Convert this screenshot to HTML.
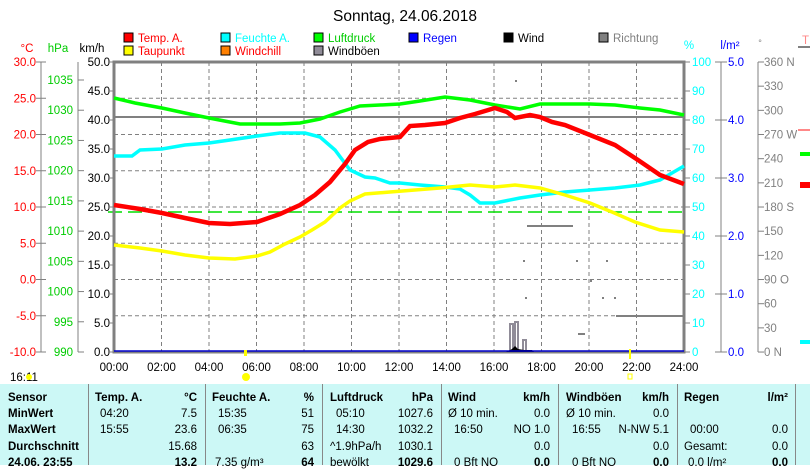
<!DOCTYPE html>
<html><head><meta charset="utf-8"><style>
body{margin:0;width:810px;height:465px;overflow:hidden;background:#fff;font-family:"Liberation Sans",sans-serif;}
svg{position:absolute;left:0;top:0}
#tbl{position:absolute;left:0;top:384px;width:810px;height:81px;background:#ccf8f6;font-size:11.5px;}
#tbl div{position:absolute;white-space:nowrap}
.b{font-weight:bold}
.sep{position:absolute;top:0;width:1px;height:81px;background:#888}
</style></head><body>
<svg width="810" height="465" font-family="Liberation Sans, sans-serif" font-size="11.5">
<text x="405" y="21" font-size="15.5" text-anchor="middle">Sonntag, 24.06.2018</text>
<g font-size="11.5">
<rect x="124" y="33" width="9" height="9" fill="red" stroke="#000"/><text x="138" y="42" fill="red">Temp. A.</text>
<rect x="124" y="46" width="9" height="9" fill="yellow" stroke="#000"/><text x="138" y="55" fill="red">Taupunkt</text>
<rect x="221" y="33" width="9" height="9" fill="cyan" stroke="#000"/><text x="235" y="42" fill="cyan">Feuchte A.</text>
<rect x="221" y="46" width="9" height="9" fill="#ff8000" stroke="#000"/><text x="235" y="55" fill="red">Windchill</text>
<rect x="314" y="33" width="9" height="9" fill="#0f0" stroke="#000"/><text x="328" y="42" fill="#0c0">Luftdruck</text>
<rect x="314" y="46" width="9" height="9" fill="#908c98" stroke="#000"/><text x="328" y="55">Windböen</text>
<rect x="409" y="33" width="9" height="9" fill="#00f" stroke="#000"/><text x="423" y="42" fill="#00f">Regen</text>
<rect x="504" y="33" width="9" height="9" fill="#000" stroke="#000"/><text x="518" y="42">Wind</text>
<rect x="599" y="33" width="9" height="9" fill="#808080" stroke="#000"/><text x="613" y="42" fill="#808080">Richtung</text>
</g>
<text x="27" y="52" fill="red" text-anchor="middle">°C</text>
<text x="58" y="52" fill="#0c0" text-anchor="middle">hPa</text>
<text x="92" y="52" text-anchor="middle">km/h</text>
<text x="689" y="49" fill="cyan" text-anchor="middle">%</text>
<text x="730" y="49" fill="#00f" text-anchor="middle">l/m²</text>
<text x="760" y="46" fill="#808080" text-anchor="middle" font-size="9">°</text>
<text x="802" y="44" fill="#f88">T</text>
<g stroke="#808080" fill="none">
<line x1="41" y1="62" x2="41" y2="352"/>
<line x1="78" y1="62" x2="78" y2="352"/>
<line x1="721" y1="62" x2="721" y2="352"/>
<line x1="758" y1="62" x2="758" y2="352"/>
</g>
<g id="ax"></g>
<g stroke="#808080" stroke-dasharray="4,3">
<line x1="161.5" y1="62" x2="161.5" y2="352"/><line x1="209" y1="62" x2="209" y2="352"/><line x1="256.5" y1="62" x2="256.5" y2="352"/><line x1="304" y1="62" x2="304" y2="352"/><line x1="351.5" y1="62" x2="351.5" y2="352"/><line x1="399" y1="62" x2="399" y2="352"/><line x1="446.5" y1="62" x2="446.5" y2="352"/><line x1="494" y1="62" x2="494" y2="352"/><line x1="541.5" y1="62" x2="541.5" y2="352"/><line x1="589" y1="62" x2="589" y2="352"/><line x1="636.5" y1="62" x2="636.5" y2="352"/>
<line x1="114" y1="98.3" x2="684" y2="98.3"/><line x1="114" y1="134.5" x2="684" y2="134.5"/><line x1="114" y1="170.8" x2="684" y2="170.8"/><line x1="114" y1="207" x2="684" y2="207"/><line x1="114" y1="243.3" x2="684" y2="243.3"/><line x1="114" y1="279.5" x2="684" y2="279.5"/><line x1="114" y1="315.8" x2="684" y2="315.8"/>
</g>
<line x1="114" y1="117" x2="684" y2="117" stroke="#808080" stroke-width="2"/>
<line x1="108" y1="212" x2="684" y2="212" stroke="#0d0" stroke-dasharray="14,6" stroke-width="1.5"/>
<rect x="114" y="62" width="570" height="290" fill="none" stroke="#808080" stroke-width="3"/>
<g stroke="#808080" stroke-width="2">
<line x1="527" y1="226" x2="573" y2="226"/><line x1="616" y1="316" x2="684" y2="316"/>
<line x1="578" y1="334" x2="585" y2="334"/>
</g>
<g fill="#808080"><rect x="523" y="260" width="2" height="2"/><rect x="576" y="260" width="2" height="2"/><rect x="606" y="260" width="2" height="2"/><rect x="525" y="297" width="2" height="2"/><rect x="602" y="297" width="2" height="2"/><rect x="614" y="297" width="2" height="2"/><rect x="515" y="80" width="2" height="2"/><rect x="590" y="280" width="2" height="2"/></g>
<path d="M510,351 V324 H513 V351 M515,351 V322 H518 V351 M523,351 V340 H526 V351" stroke="#908c98" stroke-width="2" fill="none"/>
<path d="M506,352 L512,349 L515,346 L518,349 L524,350 L532,350 L534,352 Z" fill="#000"/>
<line x1="114" y1="351" x2="684" y2="351" stroke="#00c" stroke-width="1.5"/>
<g fill="none" stroke-linejoin="miter">
<polyline stroke="#0f0" stroke-width="3.5" points="114,98 135,103 162,108 185,113 209,118 240,124 280,124 300,123 320,119 340,112 360,106 380,105 400,104 420,101 445,97 470,100 495,105 520,109 540,104 565,104 590,104 615,105 640,108 660,110 684,115"/>
<polyline stroke="cyan" stroke-width="3.5" points="114,156 132,156 140,150 162,149 185,145 209,143 230,140 257,136 280,133 305,133 320,137 335,150 350,170 365,177 375,178 390,183 400,183 420,185 445,187 460,189 470,195 480,203 495,203 505,201 520,198 540,195 565,192 590,190 615,188 640,185 660,180 684,166"/>
<polyline stroke="yellow" stroke-width="3.5" points="114,245 140,248 162,251 185,255 209,258 235,259 257,256 270,252 285,244 300,237 312,230 325,222 340,208 350,201 365,194 390,192 415,190 440,188 470,185 495,187 515,185 540,188 565,195 590,203 612,212 635,222 660,230 684,232"/>
<polyline stroke="red" stroke-width="4.5" points="114,205 140,209 162,213 185,218 209,223 230,224 257,222 280,214 300,205 315,195 330,182 345,164 355,150 368,142 380,139 400,137 410,126 425,125 445,123 460,118 475,114 495,108 507,112 515,118 530,115 540,117 552,122 565,125 590,135 615,145 638,160 660,175 684,184"/>
</g>
<rect x="800" y="152" width="10" height="4" fill="#0f0"/><rect x="800" y="182" width="10" height="6" fill="red"/><rect x="800" y="340" width="10" height="4" fill="cyan"/><rect x="798" y="129" width="12" height="2" fill="#f88"/><rect x="798" y="46" width="12" height="2" fill="#808080"/>
<g text-anchor="middle">
<text x="114" y="371">00:00</text><text x="161.5" y="371">02:00</text><text x="209" y="371">04:00</text><text x="256.5" y="371">06:00</text><text x="304" y="371">08:00</text><text x="351.5" y="371">10:00</text><text x="399" y="371">12:00</text><text x="446.5" y="371">14:00</text><text x="494" y="371">16:00</text><text x="541.5" y="371">18:00</text><text x="589" y="371">20:00</text><text x="636.5" y="371">22:00</text><text x="684" y="371">24:00</text>
</g>
<text x="10" y="381">16:11</text>
<circle cx="29" cy="377" r="3" fill="yellow"/>
<circle cx="246" cy="377" r="4" fill="yellow"/><rect x="244" y="350" width="3" height="6" fill="yellow"/>
<rect x="628" y="374" width="4" height="5" fill="none" stroke="yellow"/><rect x="629" y="349" width="2" height="10" fill="yellow"/>
</svg>
<div id="tbl">
<div class="sep" style="left:88px"></div><div class="sep" style="left:205px"></div><div class="sep" style="left:322px"></div><div class="sep" style="left:441px"></div><div class="sep" style="left:558px"></div><div class="sep" style="left:677px"></div><div class="sep" style="left:795px"></div>
<div class="b" style="left:8px;top:8px">Sensor</div><div class="b" style="left:8px;top:24px">MinWert</div><div class="b" style="left:8px;top:40px">MaxWert</div><div class="b" style="left:8px;top:57px">Durchschnitt</div><div class="b" style="left:8px;top:73px">24.06. 23:55</div>
<div class="b" style="left:95px;top:8px">Temp. A.</div><div class="b" style="right:613px;top:8px">°C</div>
<div style="left:100px;top:24px">04:20</div><div style="right:613px;top:24px">7.5</div>
<div style="left:100px;top:40px">15:55</div><div style="right:613px;top:40px">23.6</div>
<div style="right:613px;top:57px">15.68</div><div class="b" style="right:613px;top:73px">13.2</div>
<div class="b" style="left:212px;top:8px">Feuchte A.</div><div class="b" style="right:496px;top:8px">%</div>
<div style="left:218px;top:24px">15:35</div><div style="right:496px;top:24px">51</div>
<div style="left:218px;top:40px">06:35</div><div style="right:496px;top:40px">75</div>
<div style="right:496px;top:57px">63</div><div style="left:215px;top:73px">7.35 g/m³</div><div class="b" style="right:496px;top:73px">64</div>
<div class="b" style="left:330px;top:8px">Luftdruck</div><div class="b" style="right:377px;top:8px">hPa</div>
<div style="left:336px;top:24px">05:10</div><div style="right:377px;top:24px">1027.6</div>
<div style="left:336px;top:40px">14:30</div><div style="right:377px;top:40px">1032.2</div>
<div style="left:330px;top:57px">^1.9hPa/h</div><div style="right:377px;top:57px">1030.1</div>
<div style="left:330px;top:73px">bewölkt</div><div class="b" style="right:377px;top:73px">1029.6</div>
<div class="b" style="left:448px;top:8px">Wind</div><div class="b" style="right:260px;top:8px">km/h</div>
<div style="left:448px;top:24px">Ø 10 min.</div><div style="right:260px;top:24px">0.0</div>
<div style="left:454px;top:40px">16:50</div><div style="right:260px;top:40px">NO 1.0</div>
<div style="right:260px;top:57px">0.0</div><div style="left:454px;top:73px">0 Bft NO</div><div class="b" style="right:260px;top:73px">0.0</div>
<div class="b" style="left:566px;top:8px">Windböen</div><div class="b" style="right:141px;top:8px">km/h</div>
<div style="left:566px;top:24px">Ø 10 min.</div><div style="right:141px;top:24px">0.0</div>
<div style="left:572px;top:40px">16:55</div><div style="right:141px;top:40px">N-NW 5.1</div>
<div style="right:141px;top:57px">0.0</div><div style="left:572px;top:73px">0 Bft NO</div><div class="b" style="right:141px;top:73px">0.0</div>
<div class="b" style="left:684px;top:8px">Regen</div><div class="b" style="right:22px;top:8px">l/m²</div>
<div style="left:690px;top:40px">00:00</div><div style="right:22px;top:40px">0.0</div>
<div style="left:684px;top:57px">Gesamt:</div><div style="right:22px;top:57px">0.0</div>
<div style="left:688px;top:73px">0.0 l/m²</div><div class="b" style="right:22px;top:73px">0.0</div>
</div>
<script>
var g=document.getElementById('ax'),s='';
function t(x,y,txt,c,a){s+='<text x="'+x+'" y="'+y+'" fill="'+c+'" text-anchor="'+a+'">'+txt+'</text>';}
function k(x1,x2,y){s+='<line x1="'+x1+'" y1="'+y+'" x2="'+x2+'" y2="'+y+'" stroke="#808080"/>';}
for(var i=0;i<=8;i++){var y=62+i*36.25,v=30-5*i;t(36,y+4,v.toFixed(1),'red','end');k(36,46,y);}
for(var i=0;i<=9;i++){var v=1035-5*i,y=352-(v-990)*272/45;t(73,y+4,v,'#0c0','end');k(78,84,y);}
for(var i=0;i<=10;i++){var y=62+i*29,v=50-5*i;t(110,y+4,v.toFixed(1),'#000','end');k(108,114,y);t(692,y+4,100-10*i,'cyan','start');k(684,690,y);}
for(var i=0;i<=5;i++){var y=62+i*58;t(728,y+4,(5-i).toFixed(1),'#00f','start');k(715,727,y);}
var lab={360:'360 N',270:'270 W',180:'180 S',90:'90  O',0:'0   N'};
for(var i=0;i<=12;i++){var v=360-30*i,y=62+i*24.17;t(764,y+4,lab[v]||v,'#808080','start');k(758,764,y);}
g.innerHTML=s;
</script>
</body></html>
